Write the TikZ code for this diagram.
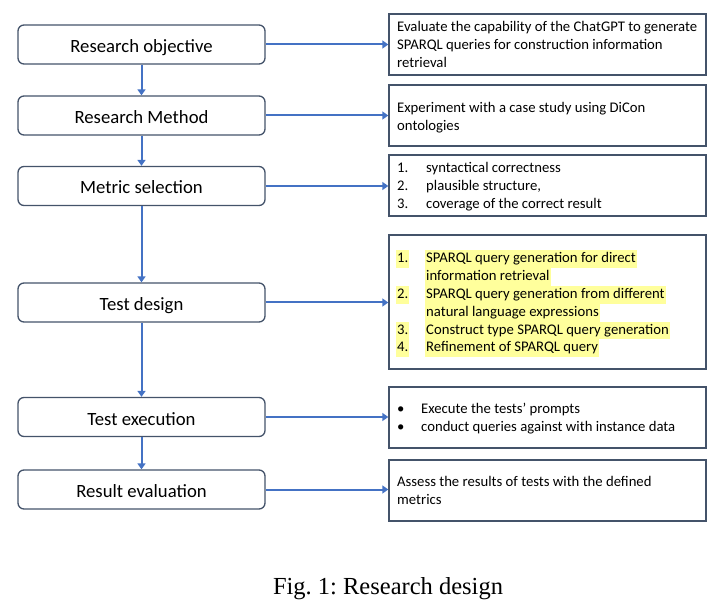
\documentclass[tikz,border=0pt]{standalone}
\usepackage{fontspec}
\setmainfont{Carlito}
\newfontfamily\capfont{Liberation Serif}
\usetikzlibrary{arrows.meta}
\frenchspacing
\definecolor{arrblue}{HTML}{4472C4}
\definecolor{boxline}{HTML}{44536A}
\definecolor{hlyellow}{HTML}{FFFF9C}
\tikzset{
  lbox/.style={draw=boxline, line width=1.3pt, rounded corners=6pt, minimum width=247pt, minimum height=39pt, inner sep=0pt, text height=16pt, text depth=0pt, font=\fontsize{18.7}{22}\selectfont},
  rbox/.style={draw=boxline, line width=1.4pt, minimum width=317pt, inner sep=0pt},
  arr/.style={draw=arrblue, line width=2pt, -{Triangle[length=6pt,width=8pt]}},
  rt/.style={anchor=west, inner sep=0pt, text height=12.5pt, text depth=5pt, font=\fontsize{14.7}{18}\selectfont},
  hl/.style={rt, fill=hlyellow, inner xsep=1pt},
}
\begin{document}
\begin{tikzpicture}[x=1pt,y=-1pt]
\useasboundingbox (0,0) rectangle (728,612);
% left column
\node[lbox] (ro) at (141.5,44.5) {Research objective};
\node[lbox] (rm) at (141.5,115.5) {Research Method};
\node[lbox] (ms) at (141.5,186) {Metric selection};
\node[lbox] (td) at (141.5,302.5) {Test design};
\node[lbox] (te) at (141.5,417) {Test execution};
\node[lbox] (re) at (141.5,489.5) {Result evaluation};
% right column
\node[rbox, minimum height=61pt] (b1) at (547.5,44.5) {};
\node[rbox, minimum height=61pt] (b2) at (547.5,115.5) {};
\node[rbox, minimum height=61pt] (b3) at (547.5,185.5) {};
\node[rbox, minimum height=134pt] (b4) at (547.5,302) {};
\node[rbox, minimum height=61pt] (b5) at (547.5,417.5) {};
\node[rbox, minimum height=61pt] (b6) at (547.5,490.5) {};
% texts box 1
\node[rt] (b1a) at (397,28) {Evaluate the capability of the ChatGPT to generate};
\node[rt] (b1b) at (397,46) {SPARQL queries for construction information};
\node[rt] (b1c) at (397,64) {retrieval};
% box 2
\node[rt] (b2a) at (397,109) {Experiment with a case study using DiCon};
\node[rt] (b2b) at (397,127) {ontologies};
% box 3
\node[rt] (b3n1) at (397,169) {1.};
\node[rt] (b3a) at (426,169) {syntactical correctness};
\node[rt] (b3n2) at (397,187) {2.};
\node[rt] (b3b) at (426,187) {plausible structure,};
\node[rt] (b3n3) at (397,205) {3.};
\node[rt] (b3c) at (426,205) {coverage of the correct result};
% box 4 (highlighted)
\node[hl, minimum width=12pt] (b4n1) at (396,259) {1.};
\node[hl] (b4a) at (425,259) {SPARQL query generation for direct};
\node[hl] (b4b) at (425,277) {information retrieval};
\node[hl, minimum width=12pt] (b4n2) at (396,295) {2.};
\node[hl] (b4c) at (425,295) {SPARQL query generation from different};
\node[hl] (b4d) at (425,313) {natural language expressions};
\node[hl, minimum width=12pt] (b4n3) at (396,330.5) {3.};
\node[hl] (b4e) at (425,330.5) {Construct type SPARQL query generation};
\node[hl, minimum width=12pt] (b4n4) at (396,348) {4.};
\node[hl] (b4f) at (425,348) {Refinement of SPARQL query};
% box 5
\node[rt] (b5n1) at (397,410) {\textbullet};
\node[rt] (b5a) at (421,410) {Execute the tests’ prompts};
\node[rt] (b5n2) at (397,428) {\textbullet};
\node[rt] (b5b) at (421,428) {conduct queries against with instance data};
% box 6
\node[rt] (b6a) at (397,483) {Assess the results of tests with the defined};
\node[rt] (b6b) at (397,501) {metrics};
% vertical arrows
\draw[arr] (ro.south) -- (rm.north);
\draw[arr] (rm.south) -- (ms.north);
\draw[arr] (ms.south) -- (td.north);
\draw[arr] (td.south) -- (te.north);
\draw[arr] (te.south) -- (re.north);
% horizontal arrows
\draw[arr] (ro.east) -- (ro.east -| b1.west);
\draw[arr] (rm.east) -- (rm.east -| b2.west);
\draw[arr] (ms.east) -- (ms.east -| b3.west);
\draw[arr] (td.east) -- (td.east -| b4.west);
\draw[arr] (te.east) -- (te.east -| b5.west);
\draw[arr] (re.east) -- (re.east -| b6.west);
% caption
\node[font=\capfont\fontsize{24.5}{28}\selectfont, inner sep=0pt] (cap) at (388,589) {Fig. 1: Research design};
\end{tikzpicture}
\end{document}
